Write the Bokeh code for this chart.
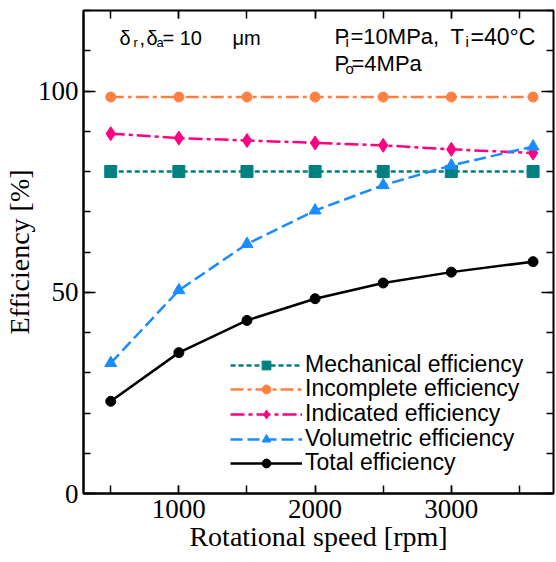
from bokeh.plotting import figure
from bokeh.models import (Range1d, LinearAxis, FixedTicker, Legend, LegendItem, Label)
from bokeh.embed import file_html
from bokeh.resources import INLINE

# ---- data ----
rpm = [500, 1000, 1500, 2000, 2500, 3000, 3600]
mechanical = [80.0, 80.0, 80.0, 80.0, 80.0, 80.0, 80.0]
incomplete = [98.5, 98.5, 98.5, 98.5, 98.5, 98.5, 98.5]
indicated = [89.4, 88.3, 87.7, 87.1, 86.5, 85.5, 84.6]
volumetric = [32.4, 50.5, 62.0, 70.3, 76.6, 81.5, 86.2]
total = [22.9, 35.0, 43.0, 48.4, 52.3, 55.0, 57.6]

series_names = ["Mechanical efficiency", "Incomplete efficiency", "Indicated efficiency",
                "Volumetric efficiency", "Total efficiency"]
x_major = [1000, 2000, 3000]
x_minor = [500, 1000, 1500, 2000, 2500, 3000, 3500]
y_major = [0, 50, 100]
y_minor = [0, 10, 20, 30, 40, 50, 60, 70, 80, 90, 100, 110, 120]

SERIF = "Liberation Serif"
SANS = "Liberation Sans"

p = figure(width=556, height=562, output_backend="svg", toolbar_location=None,
           x_range=Range1d(300, 3750), y_range=Range1d(0, 120),
           min_border_left=81, min_border_right=3, min_border_top=10, min_border_bottom=69)
p.xgrid.visible = False
p.ygrid.visible = False
p.outline_line_color = "black"
p.outline_line_width = 2
p.background_fill_color = "white"
p.border_fill_color = "white"

xt = FixedTicker(ticks=x_major, minor_ticks=x_minor)
yt = FixedTicker(ticks=y_major, minor_ticks=y_minor)

def style_axis(ax, major_in, minor_in):
    ax.axis_line_color = "black"
    ax.axis_line_width = 2
    ax.major_tick_line_color = "black"
    ax.minor_tick_line_color = "black"
    ax.major_tick_line_width = 1.5
    ax.minor_tick_line_width = 1.5
    ax.major_tick_in = major_in
    ax.major_tick_out = 0
    ax.minor_tick_in = minor_in
    ax.minor_tick_out = 0

xa = p.xaxis[0]
xa.ticker = xt
style_axis(xa, 8, 8)
xa.major_label_text_font = SERIF
xa.major_label_text_font_size = "27px"
xa.major_label_text_color = "black"
xa.major_label_standoff = 6
xa.axis_label = "Rotational speed [rpm]"
xa.axis_label_text_font = SERIF
xa.axis_label_text_font_size = "28px"
xa.axis_label_text_font_style = "normal"
xa.axis_label_text_color = "black"
xa.axis_label_standoff = 0

ya = p.yaxis[0]
ya.ticker = yt
style_axis(ya, 12, 7)
ya.major_label_text_font = SERIF
ya.major_label_text_font_size = "27px"
ya.major_label_text_color = "black"
ya.major_label_standoff = 5
ya.axis_label = "Efficiency [%]"
ya.axis_label_text_font = SERIF
ya.axis_label_text_font_size = "28px"
ya.axis_label_text_font_style = "normal"
ya.axis_label_text_color = "black"
ya.axis_label_standoff = 0

top = LinearAxis(ticker=FixedTicker(ticks=x_major, minor_ticks=x_minor))
style_axis(top, 8, 8)
top.major_label_overrides = {t: "" for t in x_major}
top.major_label_text_font_size = "1px"
top.major_label_standoff = 0
top.axis_line_color = None
p.add_layout(top, "above")

right = LinearAxis(ticker=FixedTicker(ticks=y_major, minor_ticks=y_minor))
style_axis(right, 12, 7)
right.major_label_overrides = {t: "" for t in y_major}
right.major_label_text_font_size = "1px"
right.major_label_standoff = 0
right.axis_line_color = None
p.add_layout(right, "right")

# ---- series ----
TEAL = "#008080"
ORANGE = "#FF8040"
PINK = "#FF0080"
BLUE = "#1A8CFF"
BLACK = "#000000"

specs = [
    (mechanical, TEAL, "5 3", "square", 12, 7),
    (incomplete, ORANGE, "13 4 4 4", "circle", 10, 7),
    (indicated, PINK, "14 4 4 4", "diamond", 14, 10),
    (volumetric, BLUE, "12 5", "triangle", 12, 8),
    (total, BLACK, "solid", "circle", 10, 7),
]

# one single-item legend per row so the row pitch matches the reference
legend_rows_y = [115, 91, 66, 41, 17]

for (vals, col, dash, mk, sz, lsz), name, ly in zip(specs, series_names, legend_rows_y):
    ln = p.line(rpm, vals, line_color=col, line_width=2.5, line_dash=dash)
    # small markers (used for the legend), hidden underneath the full-size markers
    lg = p.scatter(rpm, vals, marker=mk, size=lsz, fill_color=col, line_color=col)
    p.scatter(rpm, vals, marker=mk, size=sz, fill_color=col, line_color=col)
    leg = Legend(items=[LegendItem(label=name, renderers=[ln, lg])], location=(147, ly),
                 orientation="vertical", padding=0, margin=0, spacing=0,
                 glyph_width=72, glyph_height=22, label_height=22, label_standoff=3,
                 label_text_font=SANS, label_text_font_size="23px", label_text_color="black",
                 background_fill_alpha=0, border_line_color=None)
    p.add_layout(leg)

# ---- annotations (screen units relative to plot frame) ----
def lab(txt, x, y, size):
    p.add_layout(Label(x=x, y=y, x_units="screen", y_units="screen", text=txt,
                       text_font=SANS, text_font_size=size, text_color="black",
                       text_baseline="alphabetic", text_align="left"))

lab("δ", 36, 456, "20px")
lab("r", 50, 451, "13px")
lab(",", 56, 456, "20px")
lab("δ", 63, 456, "20px")
lab("a", 73, 451, "13px")
lab("= 10", 79, 456, "20px")
lab("μm", 149, 456, "20px")

lab("P", 251, 457, "22px")
lab("i", 262, 452, "15px")
lab("=10MPa,", 267, 457, "22px")
lab("T", 367, 457, "22px")
lab("i", 382, 452, "15px")
lab("=40°C", 387, 457, "23px")
lab("P", 251, 430, "22px")
lab("o", 262, 425, "15px")
lab("=4MPa", 268, 430, "22px")

open("out.html", "w").write(file_html(p, INLINE))
